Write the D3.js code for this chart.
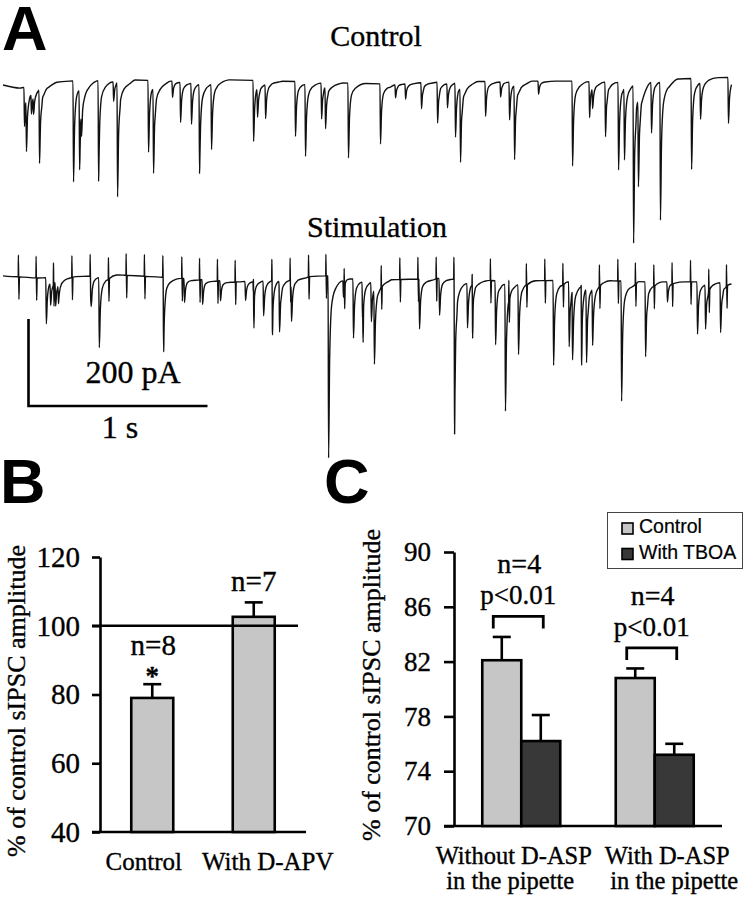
<!DOCTYPE html>
<html><head><meta charset="utf-8">
<script src="https://cdn.jsdelivr.net/npm/d3@7"></script>
<style>
body{margin:0;background:#fff}
svg{display:block}
text{font-family:"Liberation Serif","Times New Roman",serif;fill:#000;stroke:#000;stroke-width:0.35px}
text.sans{font-family:"Liberation Sans",Arial,sans-serif;stroke-width:0.2px}
text.letter{stroke-width:0}
</style>
</head><body>
<svg id="fig" width="744" height="899"></svg>
<script>
// ---------------- DATA ----------------
// Panel A: spontaneous IPSC events [time (s), amplitude (pA)]
const controlEvents = [[0.117,-90],[0.128,-120],[0.156,-45],[0.168,-40],[0.201,-170],[0.391,-232],[0.425,-185],[0.436,-55],[0.531,-232],[0.615,-45],[0.637,-262],[0.810,-165],[0.838,-195],[0.944,-37],[0.989,-92],[1.050,-94],[1.095,-205],[1.162,-150],[1.397,-140],[1.419,-65],[1.464,-78],[1.631,-126],[1.687,-165],[1.777,-83],[1.799,-95],[1.927,-172],[2.106,-138],[2.190,-30],[2.246,-35],[2.335,-60],[2.425,-94],[2.480,-55],[2.525,-124],[2.553,-170],[2.693,-80],[2.777,-35],[2.827,-87],[2.855,-170],[2.989,-30],[3.179,-195],[3.274,-83],[3.291,-50],[3.363,-126],[3.436,-202],[3.469,-165],[3.520,-363],[3.547,-200],[3.620,-117],[3.670,-317],[3.844,-209],[3.894,-83],[4.050,-106]];
const controlBaseline = [[0,-7],[0.095,-14],[0.26,-2],[0.37,2],[0.71,5],[1.1,0],[1.27,5],[1.55,2],[1.88,-2],[2.16,-5],[2.39,0],[2.89,2],[3.33,2],[3.78,7],[4.07,11]];
const stimEvents = [[0.239,-106],[0.263,-50],[0.291,-55],[0.307,-44],[0.490,-70],[0.535,-161],[0.895,-154],[1.011,-55],[1.112,-57],[1.212,-46],[1.352,-44],[1.397,-67],[1.453,-80],[1.503,-90],[1.542,-117],[1.609,-97],[1.816,-418],[1.899,-39],[1.955,-136],[2.006,-120],[2.055,-90],[2.072,-175],[2.324,-115],[2.436,-85],[2.520,-322],[2.592,-103],[2.620,-80],[2.749,-147],[2.804,-292],[2.877,-161],[3.073,-195],[3.160,-150],[3.179,-160],[3.229,-143],[3.257,-170],[3.291,-130],[3.453,-276],[3.587,-172],[3.709,-46],[3.877,-120],[3.922,-101],[4.006,-115]];
const stimBaseline = [[0,5],[0.2,0],[0.65,7],[0.88,2],[1.32,-9],[1.55,0],[1.8,5],[2.1,-5],[2.5,0],[2.78,-7],[3.3,-5],[3.6,-9],[4.07,-9]];
const stimArtifacts = [0.085,0.184,0.281,0.384,0.486,0.588,0.687,0.789,0.892,0.998,1.097,1.197,1.296,1.398,1.501,1.603,1.706,1.803,1.905,2.008,2.112,2.216,2.317,2.419,2.518,2.620,2.722,2.825,2.923,3.026,3.127,3.229,3.331,3.434,3.532,3.635,3.737,3.840,3.942,4.041];
const artifactUp = 50, artifactDown = -52;
const traceTitles = ["Control","Stimulation"];
const scaleBarLabels = ["200 pA","1 s"];

// Panel B
const bCategories = ["Control","With D-APV"];
const bValues = [79.0, 102.6];
const bErrors = [4.0, 4.2];
const bN = ["n=8","n=7"];
const bSig = ["*",""];
const bTicks = [40,60,80,100,120];
const bReference = 100;

// Panel C
const cGroups = [["Without D-ASP","in the pipette"],["With D-ASP","in the pipette"]];
const cSeries = ["Control","With TBOA"];
const cControl = [82.1, 80.8];
const cControlErr = [1.7, 0.7];
const cTBOA = [76.2, 75.2];
const cTBOAErr = [1.9, 0.8];
const cN = ["n=4","n=4"];
const cP = ["p<0.01","p<0.01"];
const cTicks = [70,74,78,82,86,90];
const yLabel = "% of control sIPSC amplitude";

// ---------------- DRAW ----------------
const svg = d3.select("#fig");
const LIGHT = "#c6c6c6", DARK = "#383838";
const SERIF = "Liberation Serif";

// panel letters
svg.append("text").attr("class","sans letter").attr("x",2).attr("y",50).attr("font-size",63).attr("font-weight","bold").text("A");
svg.append("text").attr("class","sans letter").attr("x",0).attr("y",503).attr("font-size",63).attr("font-weight","bold").text("B");
svg.append("text").attr("class","sans letter").attr("x",324).attr("y",503).attr("font-size",63).attr("font-weight","bold").text("C");

// ----- Panel A traces -----
const xT = d3.scaleLinear().domain([0,4.07]).range([3,731.5]);
const pxPerPA = 87/200;
const kernT = [0,0.003,0.009,0.02,0.04,0.1];
const kernV = [0,1,0.45,0.16,0.07,0];
const artT = [0,0.001,0.004,0.007];
const artV = [0,artifactUp,artifactDown,0];
function pieceAt(ts, vs, dt){
  if(dt<=ts[0]||dt>=ts[ts.length-1]) return 0;
  for(let i=1;i<ts.length;i++){ if(dt<=ts[i]){ const f=(dt-ts[i-1])/(ts[i]-ts[i-1]); return vs[i-1]+f*(vs[i]-vs[i-1]); } }
  return 0;
}
function buildTrace(events, base, artifacts){
  const baseAt = d3.scaleLinear().domain(base.map(d=>d[0])).range(base.map(d=>d[1])).clamp(true);
  let knots = base.map(d=>d[0]);
  events.forEach(e=>kernT.forEach(k=>knots.push(e[0]+k)));
  artifacts.forEach(a=>artT.forEach(k=>knots.push(a+k)));
  knots = Array.from(new Set(knots.map(t=>+t.toFixed(4)))).filter(t=>t>=0&&t<=4.07).sort((a,b)=>a-b);
  return knots.map(t=>{
    let v = baseAt(t);
    events.forEach(e=>{ v += e[1]*pieceAt(kernT,kernV,t-e[0]); });
    artifacts.forEach(a=>{ v += pieceAt(artT,artV,t-a); });
    return [t,v];
  });
}
function drawTrace(pts, zeroY){
  const yT = d3.scaleLinear().domain([0,-200]).range([zeroY, zeroY+87]);
  const line = d3.line().x(d=>xT(d[0])).y(d=>yT(d[1])).curve(d3.curveMonotoneX);
  svg.append("path").attr("d",line(pts)).attr("fill","none").attr("stroke","#111").attr("stroke-width",1.4).attr("stroke-linejoin","round");
  return yT;
}
drawTrace(buildTrace(controlEvents, controlBaseline, []), 82);
drawTrace(buildTrace(stimEvents, stimBaseline, stimArtifacts), 278);

svg.append("text").attr("x",376).attr("y",46).attr("font-size",30).attr("text-anchor","middle").text(traceTitles[0]);
svg.append("text").attr("x",377).attr("y",237).attr("font-size",30).attr("text-anchor","middle").text(traceTitles[1]);

// scale bar built from the trace scales
const sbX = 28.5, sbY = 406;
const sbW = xT(1)-xT(0), sbH = 200*pxPerPA;
svg.append("path").attr("d",`M${sbX},${sbY-sbH}V${sbY}H${sbX+sbW}`).attr("fill","none").attr("stroke","#000").attr("stroke-width",2.6);
svg.append("text").attr("x",133).attr("y",383).attr("font-size",32).attr("text-anchor","middle").text(scaleBarLabels[0]);
svg.append("text").attr("x",120).attr("y",438).attr("font-size",32).attr("text-anchor","middle").text(scaleBarLabels[1]);

// ----- Panel B -----
const yB = d3.scaleLinear().domain([40,120]).range([832,557]);
const xB = d3.scalePoint().domain(bCategories).range([100,306]).padding(0.515);
const bW = 42;
const gB = svg.append("g");
const axB = gB.append("g").attr("transform","translate(100,0)")
  .call(d3.axisLeft(yB).tickValues(bTicks).tickSize(8).tickSizeOuter(0).tickPadding(12));
axB.attr("font-family",SERIF);
axB.selectAll("path,line").attr("stroke","#000").attr("stroke-width",2.6);
axB.selectAll("text").attr("font-size",29).attr("font-family",SERIF);
gB.append("line").attr("x1",92).attr("x2",306).attr("y1",yB(40)).attr("y2",yB(40)).attr("stroke","#000").attr("stroke-width",2.6);
bCategories.forEach((c,i)=>{
  const cx = xB(c), top = yB(bValues[i]), et = yB(bValues[i]+bErrors[i]);
  gB.append("line").attr("x1",cx).attr("x2",cx).attr("y1",top).attr("y2",et).attr("stroke","#000").attr("stroke-width",2.6);
  gB.append("line").attr("x1",cx-9).attr("x2",cx+9).attr("y1",et).attr("y2",et).attr("stroke","#000").attr("stroke-width",2.6);
  gB.append("rect").attr("x",cx-bW/2).attr("y",top).attr("width",bW).attr("height",yB(40)-top).attr("fill",LIGHT).attr("stroke","#000").attr("stroke-width",2.6);
  if(bSig[i]){
    gB.append("text").attr("x",cx).attr("y",et+1).attr("font-size",27).attr("font-weight","bold").attr("text-anchor","middle").text(bSig[i]);
    gB.append("text").attr("x",cx+1).attr("y",et-29).attr("font-size",29).attr("text-anchor","middle").text(bN[i]);
  } else {
    gB.append("text").attr("x",cx).attr("y",et-11).attr("font-size",29).attr("text-anchor","middle").text(bN[i]);
  }
  gB.append("text").attr("x",cx+[-8.5,14][i]).attr("y",870).attr("font-size",25).attr("text-anchor","middle").text(c);
});
gB.append("line").attr("x1",92).attr("x2",298).attr("y1",yB(bReference)).attr("y2",yB(bReference)).attr("stroke","#000").attr("stroke-width",2.4);
svg.append("text").attr("transform","translate(25,701) rotate(-90)").attr("font-size",26).attr("text-anchor","middle").text(yLabel);

// ----- Panel C -----
const yC = d3.scaleLinear().domain([70,90]).range([826,552]);
const xC = d3.scalePoint().domain(d3.range(cGroups.length)).range([454,722]).padding(0.504);
const cW = 39;
const gC = svg.append("g");
const axC = gC.append("g").attr("transform","translate(454,0)")
  .call(d3.axisLeft(yC).tickValues(cTicks).tickSize(10).tickSizeOuter(0).tickPadding(13));
axC.attr("font-family",SERIF);
axC.selectAll("path,line").attr("stroke","#000").attr("stroke-width",2.6);
axC.selectAll("text").attr("font-size",27).attr("font-family",SERIF);
gC.append("line").attr("x1",444).attr("x2",722).attr("y1",yC(70)).attr("y2",yC(70)).attr("stroke","#000").attr("stroke-width",2.6);
cGroups.forEach((g,i)=>{
  const gx = xC(i);
  const series = [[cControl[i],cControlErr[i],LIGHT,gx-cW],[cTBOA[i],cTBOAErr[i],DARK,gx]];
  series.forEach(s=>{
    const cx = s[3]+cW/2, top=yC(s[0]), et=yC(s[0]+s[1]);
    gC.append("line").attr("x1",cx).attr("x2",cx).attr("y1",top).attr("y2",et).attr("stroke","#000").attr("stroke-width",2.6);
    gC.append("line").attr("x1",cx-9).attr("x2",cx+9).attr("y1",et).attr("y2",et).attr("stroke","#000").attr("stroke-width",2.6);
  });
  series.forEach(s=>{
    const top=yC(s[0]);
    gC.append("rect").attr("x",s[3]).attr("y",top).attr("width",cW).attr("height",yC(70)-top).attr("fill",s[2]).attr("stroke","#000").attr("stroke-width",2.6);
  });
  const bt = yC(cControl[i]+cControlErr[i]) - 20.5;
  gC.append("path").attr("d",`M${gx-28},${bt+12}V${bt}H${gx+22}V${bt+12}`).attr("fill","none").attr("stroke","#000").attr("stroke-width",2.8);
  gC.append("text").attr("x",gx-3).attr("y",bt-12).attr("font-size",27).attr("text-anchor","middle").text(cP[i]);
  gC.append("text").attr("x",gx-2).attr("y",bt-43).attr("font-size",28).attr("text-anchor","middle").text(cN[i]);
  const off = [[-7.5,-11],[12.5,19.5]][i];
  gC.append("text").attr("x",gx+off[0]).attr("y",864).attr("font-size",24.5).attr("text-anchor","middle").text(g[0]);
  gC.append("text").attr("x",gx+off[1]).attr("y",889).attr("font-size",24.5).attr("text-anchor","middle").text(g[1]);
});
svg.append("text").attr("transform","translate(380,685) rotate(-90)").attr("font-size",26).attr("text-anchor","middle").text(yLabel);

// legend
const lg = svg.append("g");
lg.append("rect").attr("x",607.5).attr("y",512.5).attr("width",135).attr("height",56).attr("fill","#fff").attr("stroke","#444").attr("stroke-width",1);
cSeries.forEach((s,i)=>{
  lg.append("rect").attr("x",622).attr("y",523+i*25.5).attr("width",11).attr("height",11).attr("fill",[LIGHT,DARK][i]).attr("stroke","#000").attr("stroke-width",1.6);
  lg.append("text").attr("class","sans").attr("x",639).attr("y",533+i*25.5).attr("font-size",19.5).text(s);
});
</script>
</body></html>
